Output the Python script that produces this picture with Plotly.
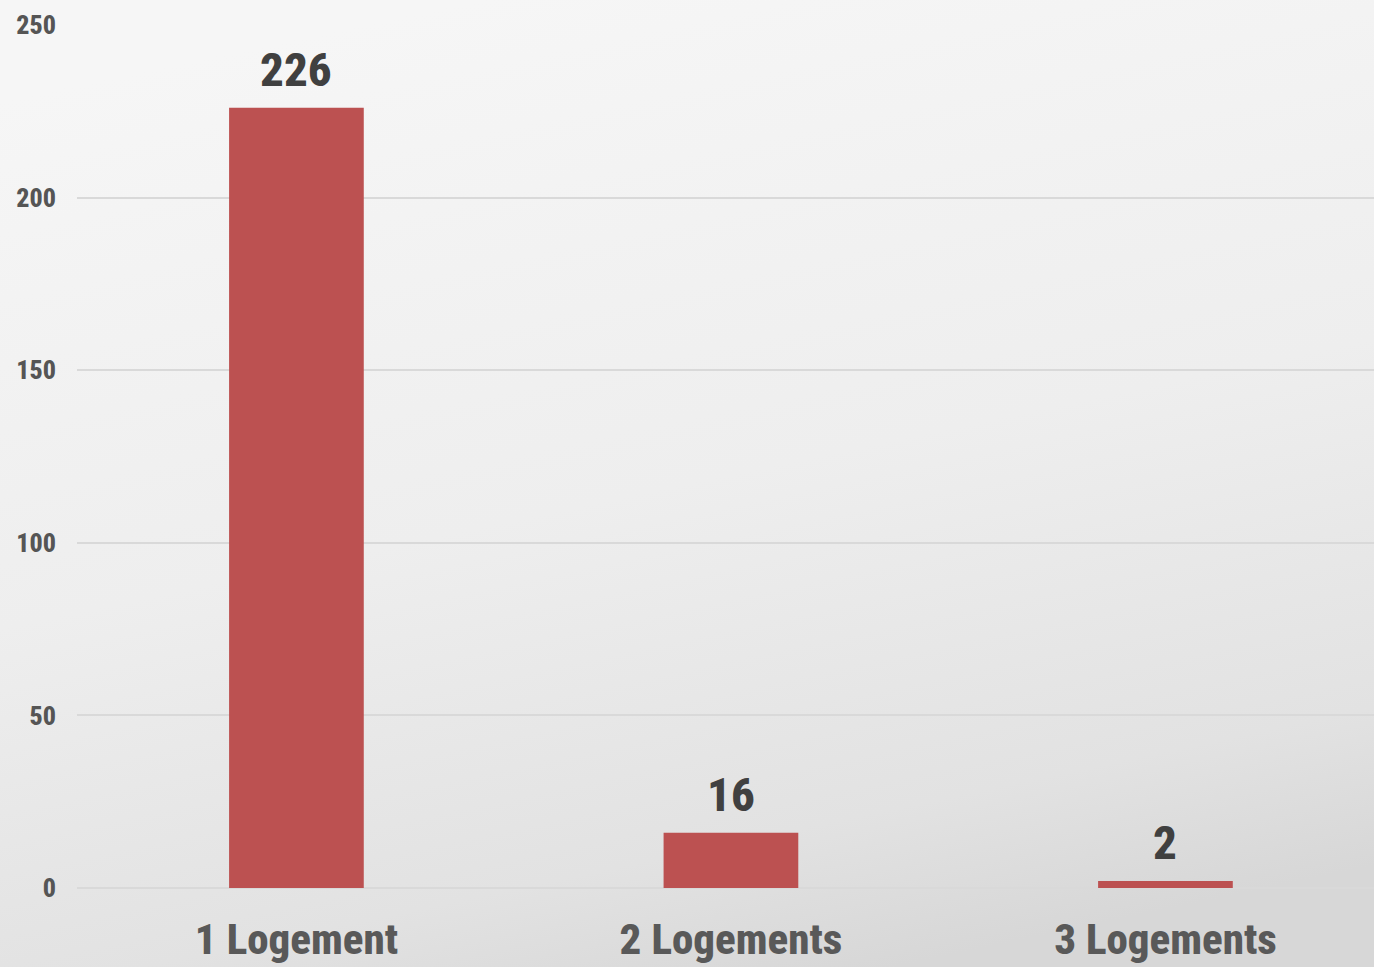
import base64
import plotly.graph_objects as go

# Data
categories = ["1 Logement", "2 Logements", "3 Logements"]
values = [226, 16, 2]
y_ticks = [0, 50, 100, 150, 200, 250]

BAR_COLOR = "#BC5151"
FONT = "Roboto Condensed, Open Sans Condensed, sans-serif"

# Soft grey gradient used as the page background
svg = """<svg xmlns='http://www.w3.org/2000/svg' width='1374' height='967' preserveAspectRatio='none'>
<defs><linearGradient id='g' x1='0.35' y1='0' x2='0.65' y2='1'>
<stop offset='0' stop-color='#f6f6f6'/>
<stop offset='0.5' stop-color='#eeeeee'/>
<stop offset='0.85' stop-color='#e2e2e2'/>
<stop offset='1' stop-color='#d7d7d7'/>
</linearGradient></defs>
<rect width='1374' height='967' fill='url(#g)'/></svg>"""
bg_src = "data:image/svg+xml;base64," + base64.b64encode(svg.encode()).decode()

fig = go.Figure()
fig.add_trace(go.Bar(
    x=categories,
    y=values,
    marker=dict(color=BAR_COLOR, line=dict(width=0)),
    width=0.31,
    hoverinfo="skip",
))

# Value labels above bars
for c, v in zip(categories, values):
    fig.add_annotation(
        x=c, y=v, text=str(v), showarrow=False,
        yanchor="bottom", yshift=9,
        font=dict(family=FONT, size=47, color="#404040", weight=800),
    )

fig.update_layout(
    width=1374, height=967,
    margin=dict(l=77, r=0, t=25, b=79, autoexpand=False),
    paper_bgcolor="rgba(0,0,0,0)",
    plot_bgcolor="rgba(0,0,0,0)",
    showlegend=False,
    images=[dict(
        source=bg_src, xref="paper", yref="paper",
        x=-77 / 1297, y=1 + 25 / 863, sizex=1374 / 1297, sizey=967 / 863,
        xanchor="left", yanchor="top", sizing="stretch", layer="below",
    )],
    xaxis=dict(
        range=[-0.505, 2.48],
        automargin=False,
        showgrid=False, showline=False, ticks="",
        tickfont=dict(family=FONT, size=43, color="#595959", weight=800),
        ticklabelstandoff=22,
    ),
    yaxis=dict(
        range=[0, 250],
        automargin=False,
        tickvals=y_ticks,
        showgrid=True, gridcolor="#d9d9d9", gridwidth=1.5,
        zeroline=True, zerolinecolor="#d9d9d9", zerolinewidth=1.5,
        showline=False, ticks="",
        ticklabelstandoff=20,
        tickfont=dict(family=FONT, size=26, color="#555555", weight=800),
    ),
)

fig.write_html("out.html")
